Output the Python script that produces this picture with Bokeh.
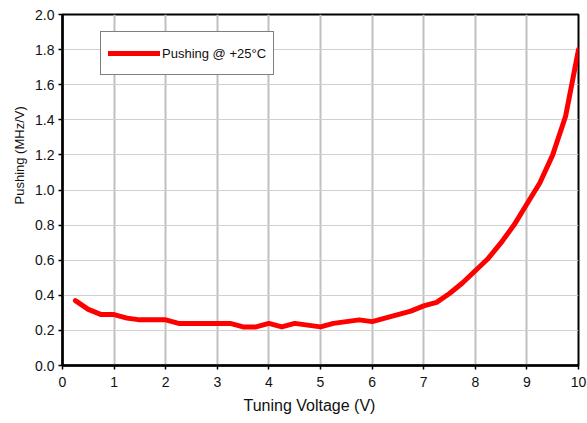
from bokeh.plotting import figure
from bokeh.models import Range1d, FixedTicker, PrintfTickFormatter, Legend, LegendItem, Title
from bokeh.embed import file_html
from bokeh.resources import INLINE

voltage = [0.25, 0.5, 0.75, 1.0, 1.25, 1.5, 1.75, 2.0, 2.25, 2.5, 2.75, 3.0, 3.25, 3.5,
           3.75, 4.0, 4.25, 4.5, 4.75, 5.0, 5.25, 5.5, 5.75, 6.0, 6.25, 6.5, 6.75, 7.0,
           7.25, 7.5, 7.75, 8.0, 8.25, 8.5, 8.75, 9.0, 9.25, 9.5, 9.75, 10.0]
pushing = [0.37, 0.32, 0.29, 0.29, 0.27, 0.26, 0.26, 0.26, 0.24, 0.24, 0.24, 0.24, 0.24, 0.22,
           0.22, 0.24, 0.22, 0.24, 0.23, 0.22, 0.24, 0.25, 0.26, 0.25, 0.27, 0.29, 0.31, 0.34,
           0.36, 0.41, 0.47, 0.54, 0.61, 0.70, 0.80, 0.92, 1.04, 1.20, 1.42, 1.80]
x_ticks = [0, 1, 2, 3, 4, 5, 6, 7, 8, 9, 10]
y_ticks = [0.0, 0.2, 0.4, 0.6, 0.8, 1.0, 1.2, 1.4, 1.6, 1.8, 2.0]
series_label = "Pushing @ +25°C"
x_title = "Tuning Voltage (V)"
y_title = "Pushing (MHz/V)"

FONT = "Liberation Sans"

p = figure(width=587, height=423, output_backend="svg", toolbar_location=None,
           x_range=Range1d(0, 10), y_range=Range1d(0, 2.0),
           min_border_left=62, min_border_top=14, min_border_right=9, min_border_bottom=58)
p.background_fill_color = "white"
p.border_fill_color = "white"
p.outline_line_color = "black"
p.outline_line_width = 2

# grid
p.xgrid.ticker = FixedTicker(ticks=x_ticks)
p.ygrid.ticker = FixedTicker(ticks=y_ticks)
p.xgrid.grid_line_color = "#c0c0c0"
p.xgrid.grid_line_width = 2
p.ygrid.grid_line_color = "#d0d0d0"
p.ygrid.grid_line_width = 1

for ax in (p.xaxis[0], p.yaxis[0]):
    ax.axis_line_color = "black"
    ax.axis_line_width = 2.5
    ax.major_tick_line_color = "black"
    ax.major_tick_line_width = 1.5
    ax.major_tick_out = 4
    ax.major_tick_in = 0
    ax.minor_tick_line_color = None
    ax.major_label_text_font = FONT
    ax.major_label_text_font_size = "14px"
    ax.major_label_text_color = "#111111"

p.xaxis.ticker = FixedTicker(ticks=x_ticks)
p.yaxis.ticker = FixedTicker(ticks=y_ticks)
p.yaxis.formatter = PrintfTickFormatter(format="%.1f")
p.xaxis.major_label_standoff = 7
p.yaxis.major_label_standoff = 4

r = p.line(voltage, pushing, line_color="#ff0000", line_width=5, line_join="round", line_cap="round")

# axis titles, positioned like the original (offset from the frame centre)
xt = Title(text=x_title, align="left", offset=181, text_font=FONT, text_font_size="16px",
           text_font_style="normal", text_color="#111111", standoff=11)
yt = Title(text=y_title, align="left", offset=161, text_font=FONT, text_font_size="13px",
           text_font_style="normal", text_color="#111111", standoff=12)
p.add_layout(xt, "below")
p.add_layout(yt, "left")

legend = Legend(items=[LegendItem(label=series_label, renderers=[r])],
                location=(38, 290))
legend.label_text_font = FONT
legend.label_text_font_size = "13px"
legend.label_text_color = "#111111"
legend.glyph_width = 52
legend.glyph_height = 28
legend.label_height = 28
legend.label_standoff = 2
legend.padding = 7
legend.margin = 0
legend.border_line_color = "black"
legend.border_line_width = 1
legend.background_fill_color = "white"
legend.background_fill_alpha = 1.0
p.add_layout(legend, "center")

open("out.html", "w").write(file_html(p, INLINE))
